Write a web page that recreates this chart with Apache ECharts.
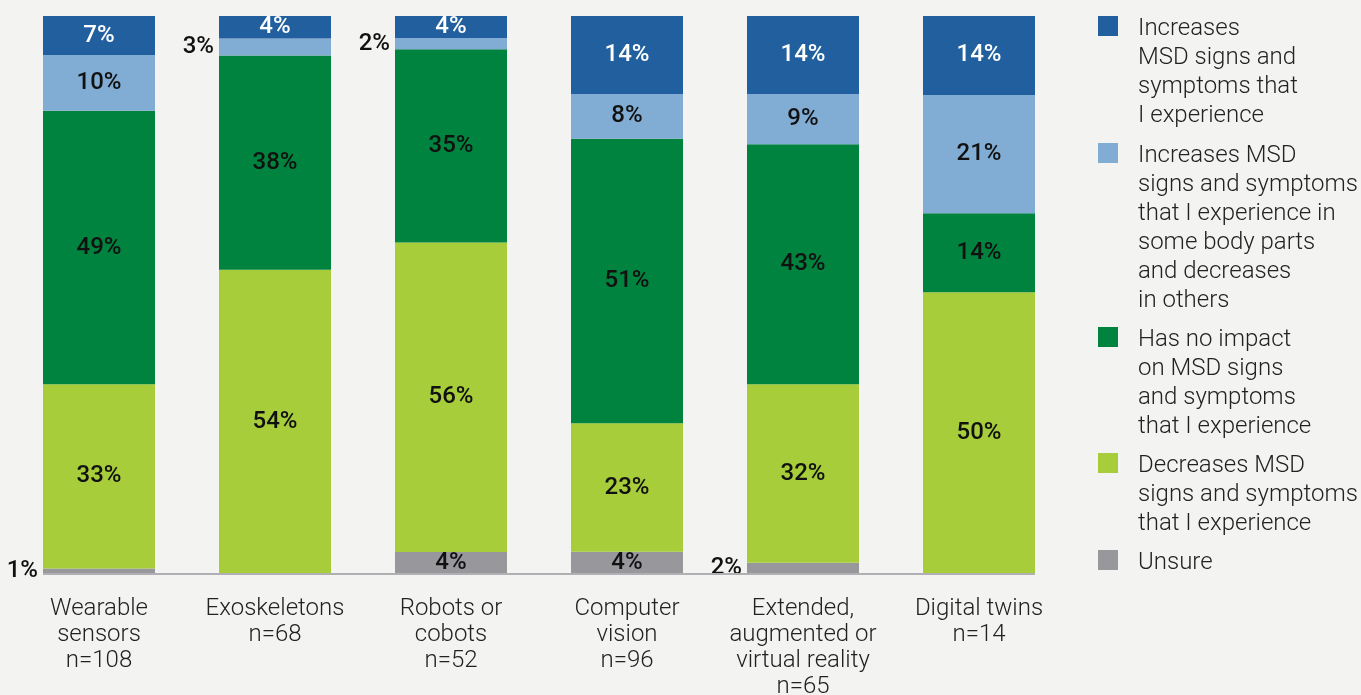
<!DOCTYPE html>
<html>
<head>
<meta charset="utf-8">
<script src="https://cdn.jsdelivr.net/npm/echarts@6/dist/echarts.min.js"></script>
<style>
  html, body { margin: 0; padding: 0; background: #f3f3f1; }
  #chart { width: 1361px; height: 695px; }
</style>
</head>
<body>
<div id="chart"></div>
<script>
// Technologies and respondent counts
const categories = [
  'Wearable\nsensors',
  'Exoskeletons',
  'Robots or\ncobots',
  'Computer\nvision',
  'Extended,\naugmented or\nvirtual reality',
  'Digital twins'
];
const sampleSizes = [108, 68, 52, 96, 65, 14];

// Response shares (%), bottom of the stack first
const unsure     = [1, 0, 4, 4, 2, 0];
const decreases  = [33, 54, 56, 23, 32, 50];
const noImpact   = [49, 38, 35, 51, 43, 14];
const mixed      = [10, 3, 2, 8, 9, 21];
const increases  = [7, 4, 4, 14, 14, 14];

const seriesNames = [
  'Unsure',
  'Decreases MSD\nsigns and symptoms\nthat I experience',
  'Has no impact\non MSD signs\nand symptoms\nthat I experience',
  'Increases MSD\nsigns and symptoms\nthat I experience in\nsome body parts\nand decreases\nin others',
  'Increases\nMSD signs and\nsymptoms that\nI experience'
];
const seriesValues = [unsure, decreases, noImpact, mixed, increases];
const seriesColors = ['#98979c', '#a7ce3a', '#00833e', '#81acd3', '#215f9e'];
const labelColors  = ['#111', '#111', '#111', '#111', '#fff'];

const FONT = 'Roboto, "Noto Sans", sans-serif';
const BAR_WIDTH = 112;

// Each column is drawn as a 100% stack; the labels keep the stated values
const totals = categories.map((_, i) => seriesValues.reduce((s, arr) => s + arr[i], 0));

const series = seriesValues.map((vals, si) => ({
  name: seriesNames[si],
  type: 'bar',
  stack: 'share',
  barWidth: BAR_WIDTH,
  itemStyle: { color: seriesColors[si] },
  emphasis: { disabled: true },
  data: vals.map((v, ci) => {
    const small = v > 0 && v < 4;
    return {
      value: v / totals[ci] * 100,
      raw: v,
      label: {
        show: v > 0,
        position: small ? 'left' : 'inside',
        distance: 5,
        color: small ? '#111' : labelColors[si]
      }
    };
  }),
  label: {
    show: true,
    fontFamily: FONT,
    fontSize: 24,
    fontWeight: 500,
    formatter: p => p.data.raw + '%'
  }
}));

// Legend: one block per response, top to bottom, first text line beside the swatch.
// Leading blank lines (plus a thin spacer row) keep the vertically centred text
// block starting at the swatch.
const LINE_H = 29;
const SPACER_H = 6;
const legendTops = [16, 143, 327, 453, 550];
const legendOrder = [4, 3, 2, 1, 0];
const legends = legendOrder.map((si, k) => {
  const lines = seriesNames[si].split('\n').length;
  const boxH = (2 * lines - 1) * LINE_H + SPACER_H;
  return {
    data: [seriesNames[si]],
    orient: 'vertical',
    left: 1098,
    top: legendTops[k] + (10 - boxH / 2),
    padding: 0,
    itemWidth: 20,
    itemHeight: 20,
    itemGap: 0,
    icon: 'rect',
    selectedMode: false,
    formatter: name => '{sp|\u200b}\n' + '\n'.repeat(lines - 1) + name,
    textStyle: {
      fontFamily: FONT,
      fontWeight: 300,
      fontSize: 24,
      lineHeight: LINE_H,
      color: '#222',
      padding: [0, 0, 0, 15],
      rich: {
        sp: { fontSize: 4, lineHeight: SPACER_H, height: SPACER_H }
      }
    }
  };
});

const chart = echarts.init(document.getElementById('chart'), null, { renderer: 'canvas' });
chart.setOption({
  backgroundColor: '#f3f3f1',
  animation: false,
  legend: legends,
  grid: { left: 11, right: 294, top: 16, bottom: 121, containLabel: false, outerBoundsMode: 'none' },
  xAxis: {
    type: 'category',
    data: categories,
    axisLine: { show: false },
    axisTick: { show: false },
    axisLabel: {
      interval: 0,
      margin: 22,
      fontFamily: FONT,
      fontWeight: 300,
      fontSize: 24,
      lineHeight: 26,
      color: '#222',
      formatter: (v, i) => v + '\nn=' + sampleSizes[i]
    }
  },
  yAxis: {
    type: 'value',
    min: 0,
    max: 100,
    show: false,
    splitLine: { show: false }
  },
  series: series
});

// Baseline spanning from the first bar's left edge to the last bar's right edge
const xFirst = chart.convertToPixel({ xAxisIndex: 0 }, 0) - BAR_WIDTH / 2;
const xLast = chart.convertToPixel({ xAxisIndex: 0 }, categories.length - 1) + BAR_WIDTH / 2;
const yBase = chart.convertToPixel({ yAxisIndex: 0 }, 0);
chart.setOption({
  graphic: [{
    type: 'line',
    z: 10,
    shape: { x1: xFirst, y1: yBase, x2: xLast, y2: yBase },
    style: { stroke: '#b0b0b4', lineWidth: 2 }
  }]
});
</script>
</body>
</html>
